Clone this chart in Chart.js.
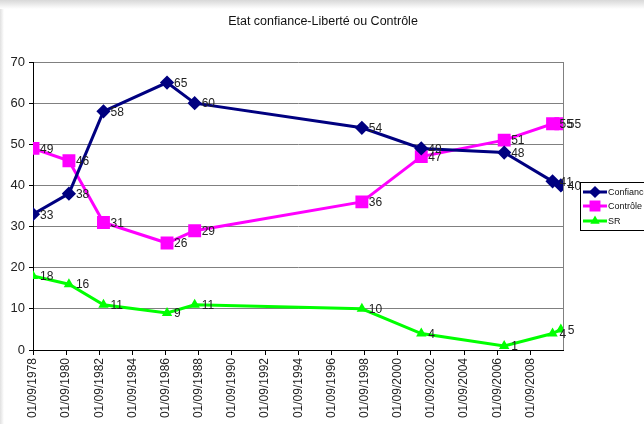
<!DOCTYPE html>
<html>
<head>
<meta charset="utf-8">
<script src="https://cdn.jsdelivr.net/npm/chart.js@4.4.0/dist/chart.umd.min.js"></script>
<style>
    html, body { margin: 0; padding: 0; background: #fff; }
    #wrap { width: 644px; height: 424px; }
</style>
</head>
<body>
<div id="wrap"><canvas id="chart" width="644" height="424"></canvas></div>
<script>
// Dates des sondages (année-mois)
const dates = ['1978-09', '1980-11', '1982-12', '1986-10', '1988-06', '1998-07', '2002-02', '2007-02', '2010-01', '2010-07'];
const confiance = [33, 38, 58, 65, 60, 54, 49, 48, 41, 40];
const controle = [49, 46, 31, 26, 29, 36, 47, 51, 55, 55];
const sr = [18, 16, 11, 9, 11, 10, 4, 1, 4, 5];
const tickYears = [1978, 1980, 1982, 1984, 1986, 1988, 1990, 1992, 1994, 1996, 1998, 2000, 2002, 2004, 2006, 2008];
const chartTitle = 'Etat confiance-Liberté ou Contrôle';

const toYear = s => {
    const [y, m] = s.split('-').map(Number);
    return y + (m - 1) / 12;
};
const xs = dates.map(toYear);
const pts = vals => vals.map((v, i) => ({ x: xs[i], y: v }));

const FONT = '"Liberation Sans", Arial, sans-serif';

// fond + petites ombres grises du cadre
const bgPlugin = {
    id: 'bg',
    beforeDraw(chart) {
        const ctx = chart.ctx;
        ctx.save();
        ctx.fillStyle = '#fff';
        ctx.fillRect(0, 0, chart.width, chart.height);
        const g = ctx.createLinearGradient(0, 0, 0, 9);
        g.addColorStop(0, '#d8d8d8');
        g.addColorStop(1, '#ffffff');
        ctx.fillStyle = g;
        ctx.fillRect(0, 0, chart.width, 9);
        const g2 = ctx.createLinearGradient(0, 0, 4, 0);
        g2.addColorStop(0, '#e0e0e0');
        g2.addColorStop(1, '#ffffff');
        ctx.fillStyle = g2;
        ctx.fillRect(0, 9, 4, chart.height);
        ctx.restore();
    }
};

// titre, étiquettes de valeurs, bord droit du tracé, légende encadrée
const extrasPlugin = {
    id: 'extras',
    afterDatasetsDraw(chart) {
        const ctx = chart.ctx;
        const a = chart.chartArea;
        ctx.save();
        ctx.strokeStyle = '#808080';
        ctx.lineWidth = 1;
        ctx.beginPath();
        ctx.moveTo(Math.round(a.right) + 0.5, a.top);
        ctx.lineTo(Math.round(a.right) + 0.5, a.bottom);
        ctx.stroke();

        ctx.font = '12px ' + FONT;
        ctx.fillStyle = '#222';
        ctx.textBaseline = 'middle';
        ctx.textAlign = 'left';
        chart.data.datasets.forEach((ds, i) => {
            const meta = chart.getDatasetMeta(i);
            meta.data.forEach((p, j) => {
                ctx.fillText(String(ds.data[j].y), p.x + 7, p.y + 1);
            });
        });
        ctx.restore();
    },
    afterDraw(chart) {
        const ctx = chart.ctx;
        ctx.save();
        ctx.font = '12.5px ' + FONT;
        ctx.fillStyle = '#111';
        ctx.textAlign = 'center';
        ctx.textBaseline = 'middle';
        ctx.fillText(chartTitle, 323, 22);

        ctx.textAlign = 'left';
        ctx.fillStyle = '#fff';
        ctx.fillRect(580, 182, 70, 49);
        ctx.strokeStyle = '#000';
        ctx.lineWidth = 1;
        ctx.strokeRect(580.5, 182.5, 70, 48);
        ctx.font = '9px ' + FONT;
        const rows = [192, 206, 221];
        chart.data.datasets.forEach((ds, i) => {
            const y = rows[i];
            ctx.strokeStyle = ds.borderColor;
            ctx.lineWidth = 3;
            ctx.beginPath();
            ctx.moveTo(583, y);
            ctx.lineTo(607, y);
            ctx.stroke();
            Chart.helpers.drawPoint(ctx, {
                pointStyle: ds.pointStyle,
                radius: ds.pointRadius * 0.8,
                borderWidth: 1
            }, 595, y);
            ctx.fillStyle = ds.pointBackgroundColor;
            ctx.fill();
            ctx.fillStyle = '#111';
            ctx.fillText(ds.label, 608, y + 1);
        });
        ctx.restore();
    }
};

new Chart(document.getElementById('chart'), {
    type: 'line',
    data: {
        datasets: [
            {
                label: 'Confiance',
                data: pts(confiance),
                borderColor: '#000080',
                backgroundColor: '#000080',
                pointBackgroundColor: '#000080',
                pointBorderColor: '#000080',
                borderWidth: 3,
                pointStyle: 'rectRot',
                pointRadius: 5,
                tension: 0
            },
            {
                label: 'Contrôle',
                data: pts(controle),
                borderColor: '#ff00ff',
                backgroundColor: '#ff00ff',
                pointBackgroundColor: '#ff00ff',
                pointBorderColor: '#ff00ff',
                borderWidth: 3,
                pointStyle: 'rect',
                pointRadius: 7,
                tension: 0
            },
            {
                label: 'SR',
                data: pts(sr),
                borderColor: '#00ff00',
                backgroundColor: '#00ff00',
                pointBackgroundColor: '#00ff00',
                pointBorderColor: '#00ff00',
                borderWidth: 3,
                pointStyle: 'triangle',
                pointRadius: 3,
                tension: 0
            }
        ]
    },
    options: {
        responsive: false,
        animation: false,
        layout: { padding: { left: 0, right: 81, top: 62, bottom: 0 } },
        plugins: {
            legend: { display: false },
            tooltip: { enabled: false },
            title: { display: false }
        },
        scales: {
            x: {
                type: 'linear',
                min: toYear('1978-09'),
                max: 2010.63,
                afterBuildTicks: scale => {
                    scale.ticks = tickYears.map(y => ({ value: y + 8 / 12 }));
                },
                afterFit: scale => { scale.height = 74; },
                grid: {
                    display: true,
                    drawOnChartArea: false,
                    drawTicks: true,
                    tickLength: 5,
                    color: '#000'
                },
                border: { color: '#000', width: 1 },
                ticks: {
                    autoSkip: false,
                    minRotation: 90,
                    maxRotation: 90,
                    padding: 3,
                    color: '#222',
                    font: { family: FONT, size: 12 },
                    callback: v => '01/09/' + Math.round(v - 8 / 12)
                }
            },
            y: {
                min: 0,
                max: 70,
                afterFit: scale => { scale.width = 33; },
                ticks: {
                    stepSize: 10,
                    padding: 4,
                    color: '#222',
                    font: { family: FONT, size: 13 }
                },
                grid: {
                    color: '#808080',
                    lineWidth: 1,
                    tickLength: 4,
                    tickColor: '#000'
                },
                border: { color: '#000', width: 1 }
            }
        }
    },
    plugins: [bgPlugin, extrasPlugin]
});
</script>
</body>
</html>
